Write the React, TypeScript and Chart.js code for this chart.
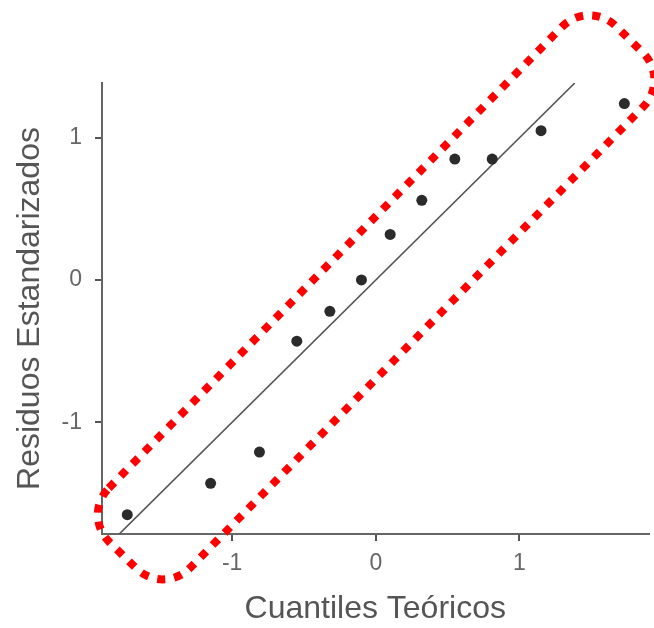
import React, { useEffect, useRef } from "react";
import { Chart, registerables } from "chart.js";

Chart.register(...registerables);

// ---- data ----
const theoreticalQuantiles = [-1.73, -1.15, -0.81, -0.55, -0.32, -0.1, 0.1, 0.32, 0.55, 0.81, 1.15, 1.73];
const standardizedResiduals = [-1.65, -1.43, -1.21, -0.43, -0.22, 0.0, 0.32, 0.56, 0.85, 0.85, 1.05, 1.24];
const refLineX = [-1.79, 1.385];
const refLineY = [-1.79, 1.385];
const xTicks = [-1, 0, 1];
const yTicks = [-1, 0, 1];
const xTitle = "Cuantiles Teóricos";
const yTitle = "Residuos Estandarizados";

// annotation band (centre in data units)
const bandCenter = { x: 0.002, y: -0.122 };
const BAND_STYLE = { length: 723, width: 114, radius: 38, angleDeg: 45.5, color: "#ff0000", lineWidth: 8, dash: [8, 9] };

const FONT = "'Liberation Sans', Arial, sans-serif";

const bandPlugin = {
  id: "band",
  afterDraw(chart: any) {
    const { ctx } = chart;
    const px = chart.scales.x.getPixelForValue(bandCenter.x);
    const py = chart.scales.y.getPixelForValue(bandCenter.y);
    const s = BAND_STYLE;
    ctx.save();
    ctx.translate(px, py);
    ctx.rotate((-s.angleDeg * Math.PI) / 180);
    ctx.beginPath();
    ctx.roundRect(-s.length / 2, -s.width / 2, s.length, s.width, s.radius);
    ctx.setLineDash(s.dash);
    ctx.lineCap = "butt";
    ctx.lineWidth = s.lineWidth;
    ctx.strokeStyle = s.color;
    ctx.stroke();
    ctx.restore();
  },
};

export default function App() {
  const ref = useRef<HTMLCanvasElement>(null);
  useEffect(() => {
    const chart = new Chart(ref.current!, {
      type: "scatter",
      data: {
        datasets: [
          {
            type: "line",
            data: refLineX.map((x, i) => ({ x, y: refLineY[i] })),
            borderColor: "#555555",
            borderWidth: 1.6,
            pointRadius: 0,
            showLine: true,
            order: 2,
          } as any,
          {
            data: theoreticalQuantiles.map((x, i) => ({ x, y: standardizedResiduals[i] })),
            backgroundColor: "#2b2b2b",
            borderColor: "#2b2b2b",
            borderWidth: 0,
            pointRadius: 5.5,
            order: 1,
          },
        ],
      },
      options: {
        animation: false,
        responsive: false,
        maintainAspectRatio: false,
        layout: { padding: { top: 83, right: 2, left: 0, bottom: 0 } },
        plugins: { legend: { display: false }, tooltip: { enabled: false } },
        scales: {
          x: {
            type: "linear",
            min: -1.906,
            max: 1.898,
            afterBuildTicks: (s: any) => { s.ticks = xTicks.map((v) => ({ value: v })); },
            afterFit: (s: any) => { s.height = 94; },
            grid: { display: true, drawOnChartArea: false, drawTicks: true, tickLength: 7, color: "#555", lineWidth: 2 },
            border: { display: true, color: "#666", width: 2 },
            ticks: { color: "#666", font: { family: FONT, size: 23 }, padding: 9, callback: (v: any) => String(v) },
            title: { display: true, text: xTitle, color: "#555", font: { family: FONT, size: 32 }, padding: { top: 0, bottom: 0 } },
          },
          y: {
            type: "linear",
            min: -1.786,
            max: 1.385,
            afterBuildTicks: (s: any) => { s.ticks = yTicks.map((v) => ({ value: v })); },
            afterFit: (s: any) => { s.width = 102; },
            grid: { display: true, drawOnChartArea: false, drawTicks: true, tickLength: 7, color: "#555", lineWidth: 2 },
            border: { display: true, color: "#666", width: 2 },
            ticks: { color: "#666", font: { family: FONT, size: 23 }, padding: 13, callback: (v: any) => String(v) },
            title: { display: true, text: yTitle, color: "#555", font: { family: FONT, size: 32 }, padding: { top: 11, bottom: 0 } },
          },
        },
      },
      plugins: [bandPlugin],
    });
    return () => chart.destroy();
  }, []);
  return (
    <div style={{ position: "absolute", left: 0, top: 0, width: 654, height: 628, background: "#fff" }}>
      <canvas ref={ref} width={654} height={628} style={{ width: 654, height: 628, display: "block" }} />
    </div>
  );
}
